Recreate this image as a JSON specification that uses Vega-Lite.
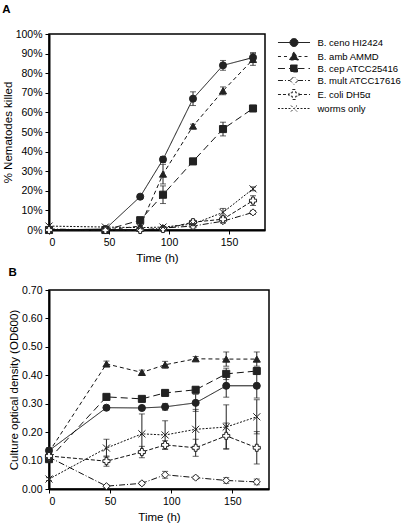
{
  "$schema": "https://vega.github.io/schema/vega-lite/v6.json",
  "padding": {"left": 1, "top": 2, "right": 40, "bottom": 2},
  "config": {
    "font": "Liberation Sans",
    "view": {"stroke": "#000", "strokeWidth": 1.5},
    "axis": {"labelFont": "Liberation Sans", "titleFont": "Liberation Sans", "labelFontSize": 10.5, "titleFontSize": 11.5, "titleFontWeight": "normal", "labelColor": "#000", "titleColor": "#000", "domainColor": "#000", "tickColor": "#000", "domainWidth": 2, "tickSize": 4, "grid": false, "labelPadding": 3},
    "legend": {"labelFont": "Liberation Sans", "labelFontSize": 9.5, "labelColor": "#000", "labelLimit": 200},
    "title": {"font": "Liberation Sans"}
  },
  "datasets": {
    "A": [
      {"strain": "B. ceno HI2424", "time": 0, "value": 0.0, "err": 0},
      {"strain": "B. ceno HI2424", "time": 47, "value": 0.005, "err": 0},
      {"strain": "B. ceno HI2424", "time": 76, "value": 0.17, "err": 0.01},
      {"strain": "B. ceno HI2424", "time": 95, "value": 0.36, "err": 0.015},
      {"strain": "B. ceno HI2424", "time": 120, "value": 0.67, "err": 0.035},
      {"strain": "B. ceno HI2424", "time": 145, "value": 0.84, "err": 0.025},
      {"strain": "B. ceno HI2424", "time": 170, "value": 0.88, "err": 0.025},
      {"strain": "B. amb AMMD", "time": 0, "value": 0.0, "err": 0},
      {"strain": "B. amb AMMD", "time": 47, "value": 0.0, "err": 0},
      {"strain": "B. amb AMMD", "time": 76, "value": 0.02, "err": 0.01},
      {"strain": "B. amb AMMD", "time": 95, "value": 0.285, "err": 0.05},
      {"strain": "B. amb AMMD", "time": 120, "value": 0.53, "err": 0.01},
      {"strain": "B. amb AMMD", "time": 145, "value": 0.71, "err": 0.02},
      {"strain": "B. amb AMMD", "time": 170, "value": 0.87, "err": 0.03},
      {"strain": "B. cep ATCC25416", "time": 0, "value": 0.0, "err": 0},
      {"strain": "B. cep ATCC25416", "time": 47, "value": 0.0, "err": 0},
      {"strain": "B. cep ATCC25416", "time": 76, "value": 0.05, "err": 0.01},
      {"strain": "B. cep ATCC25416", "time": 95, "value": 0.18, "err": 0.045},
      {"strain": "B. cep ATCC25416", "time": 120, "value": 0.35, "err": 0.015},
      {"strain": "B. cep ATCC25416", "time": 145, "value": 0.515, "err": 0.035},
      {"strain": "B. cep ATCC25416", "time": 170, "value": 0.62, "err": 0.01},
      {"strain": "B. mult ATCC17616", "time": 0, "value": 0.005, "err": 0},
      {"strain": "B. mult ATCC17616", "time": 47, "value": 0.0, "err": 0},
      {"strain": "B. mult ATCC17616", "time": 76, "value": 0.0, "err": 0},
      {"strain": "B. mult ATCC17616", "time": 95, "value": 0.01, "err": 0.005},
      {"strain": "B. mult ATCC17616", "time": 120, "value": 0.02, "err": 0.01},
      {"strain": "B. mult ATCC17616", "time": 145, "value": 0.045, "err": 0.01},
      {"strain": "B. mult ATCC17616", "time": 170, "value": 0.09, "err": 0.01},
      {"strain": "E. coli DH5α", "time": 0, "value": 0.0, "err": 0},
      {"strain": "E. coli DH5α", "time": 47, "value": 0.0, "err": 0},
      {"strain": "E. coli DH5α", "time": 76, "value": 0.0, "err": 0},
      {"strain": "E. coli DH5α", "time": 95, "value": 0.005, "err": 0.01},
      {"strain": "E. coli DH5α", "time": 120, "value": 0.04, "err": 0.01},
      {"strain": "E. coli DH5α", "time": 145, "value": 0.055, "err": 0.01},
      {"strain": "E. coli DH5α", "time": 170, "value": 0.15, "err": 0.025},
      {"strain": "worms only", "time": 0, "value": 0.02, "err": 0},
      {"strain": "worms only", "time": 47, "value": 0.015, "err": 0},
      {"strain": "worms only", "time": 76, "value": 0.012, "err": 0},
      {"strain": "worms only", "time": 95, "value": 0.015, "err": 0},
      {"strain": "worms only", "time": 120, "value": 0.03, "err": 0.01},
      {"strain": "worms only", "time": 145, "value": 0.09, "err": 0.02},
      {"strain": "worms only", "time": 170, "value": 0.21, "err": 0.01}
    ],
    "B": [
      {"strain": "B. ceno HI2424", "time": 0, "value": 0.135, "err": 0.01},
      {"strain": "B. ceno HI2424", "time": 47, "value": 0.286, "err": 0.005},
      {"strain": "B. ceno HI2424", "time": 76, "value": 0.285, "err": 0.005},
      {"strain": "B. ceno HI2424", "time": 95, "value": 0.289, "err": 0.012},
      {"strain": "B. ceno HI2424", "time": 120, "value": 0.303, "err": 0.03},
      {"strain": "B. ceno HI2424", "time": 145, "value": 0.363, "err": 0.04},
      {"strain": "B. ceno HI2424", "time": 170, "value": 0.363, "err": 0.043},
      {"strain": "B. amb AMMD", "time": 0, "value": 0.13, "err": 0.01},
      {"strain": "B. amb AMMD", "time": 47, "value": 0.44, "err": 0.01},
      {"strain": "B. amb AMMD", "time": 76, "value": 0.41, "err": 0.008},
      {"strain": "B. amb AMMD", "time": 95, "value": 0.437, "err": 0.012},
      {"strain": "B. amb AMMD", "time": 120, "value": 0.458, "err": 0.008},
      {"strain": "B. amb AMMD", "time": 145, "value": 0.457, "err": 0.025},
      {"strain": "B. amb AMMD", "time": 170, "value": 0.457, "err": 0.025},
      {"strain": "B. cep ATCC25416", "time": 0, "value": 0.105, "err": 0.01},
      {"strain": "B. cep ATCC25416", "time": 47, "value": 0.324, "err": 0.008},
      {"strain": "B. cep ATCC25416", "time": 76, "value": 0.317, "err": 0.008},
      {"strain": "B. cep ATCC25416", "time": 95, "value": 0.338, "err": 0.01},
      {"strain": "B. cep ATCC25416", "time": 120, "value": 0.349, "err": 0.01},
      {"strain": "B. cep ATCC25416", "time": 145, "value": 0.405, "err": 0.02},
      {"strain": "B. cep ATCC25416", "time": 170, "value": 0.415, "err": 0.01},
      {"strain": "B. mult ATCC17616", "time": 0, "value": 0.112, "err": 0.005},
      {"strain": "B. mult ATCC17616", "time": 47, "value": 0.01, "err": 0.005},
      {"strain": "B. mult ATCC17616", "time": 76, "value": 0.02, "err": 0.005},
      {"strain": "B. mult ATCC17616", "time": 95, "value": 0.05, "err": 0.012},
      {"strain": "B. mult ATCC17616", "time": 120, "value": 0.04, "err": 0.005},
      {"strain": "B. mult ATCC17616", "time": 145, "value": 0.03, "err": 0.01},
      {"strain": "B. mult ATCC17616", "time": 170, "value": 0.025, "err": 0.01},
      {"strain": "E. coli DH5α", "time": 0, "value": 0.116, "err": 0.01},
      {"strain": "E. coli DH5α", "time": 47, "value": 0.098, "err": 0.018},
      {"strain": "E. coli DH5α", "time": 76, "value": 0.13, "err": 0.02},
      {"strain": "E. coli DH5α", "time": 95, "value": 0.155, "err": 0.015},
      {"strain": "E. coli DH5α", "time": 120, "value": 0.145, "err": 0.03},
      {"strain": "E. coli DH5α", "time": 145, "value": 0.187, "err": 0.045},
      {"strain": "E. coli DH5α", "time": 170, "value": 0.145, "err": 0.057},
      {"strain": "worms only", "time": 0, "value": 0.035, "err": 0.005},
      {"strain": "worms only", "time": 47, "value": 0.144, "err": 0.031},
      {"strain": "worms only", "time": 76, "value": 0.194, "err": 0.07},
      {"strain": "worms only", "time": 95, "value": 0.19, "err": 0.05},
      {"strain": "worms only", "time": 120, "value": 0.21, "err": 0.07},
      {"strain": "worms only", "time": 145, "value": 0.218, "err": 0.078},
      {"strain": "worms only", "time": 170, "value": 0.254, "err": 0.06}
    ]
  },
  "spacing": 0,
  "resolve": {"scale": {"shape": "independent", "fill": "independent", "strokeDash": "independent"}, "legend": {"shape": "independent", "fill": "independent", "strokeDash": "independent"}},
  "vconcat": [
    {
      "title": {"text": "A", "anchor": "start", "frame": "bounds", "fontWeight": "bold", "fontSize": 11.5, "offset": 14},
      "width": 216,
      "height": 196,
      "data": {"name": "A"},
      "resolve": {"scale": {"shape": "independent", "fill": "independent", "strokeDash": "independent"}},
      "encoding": {
        "x": {"field": "time", "type": "quantitative", "scale": {"domain": [0, 180], "nice": false}, "axis": {"values": [0, 50, 100, 150], "title": "Time (h)", "titlePadding": 5}},
        "y": {"field": "value", "type": "quantitative", "scale": {"domain": [0, 1], "nice": false}, "axis": {"values": [0, 0.1, 0.2, 0.3, 0.4, 0.5, 0.6, 0.7, 0.8, 0.9, 1], "format": ".0%", "title": "% Nematodes killed", "titlePadding": 2}}
      },
      "layer": [
        {
          "transform": [{"filter": "datum.err > 0"}],
          "mark": {"type": "errorbar", "ticks": {"size": 6, "color": "#222"}, "rule": {"color": "#222", "strokeWidth": 1}},
          "encoding": {
            "yError": {"field": "err"},
            "detail": {"field": "strain", "type": "nominal"}
          }
        },
        {
          "mark": {"type": "line", "color": "#111", "strokeWidth": 1},
          "encoding": {
            "detail": {"field": "strain", "type": "nominal"},
            "strokeDash": {"field": "strain", "type": "nominal", "scale": {"domain": ["B. ceno HI2424", "B. amb AMMD", "B. cep ATCC25416", "B. mult ATCC17616", "E. coli DH5α", "worms only"], "range": [[1, 0], [4, 3], [7, 4], [6, 2, 1, 2], [4, 2], [2, 1.5]]}, "legend": null}
          }
        },
        {
          "mark": {"type": "point", "filled": true, "stroke": "#222", "strokeWidth": 1, "opacity": 1, "size": 50},
          "encoding": {
            "shape": {"field": "strain", "type": "nominal", "scale": {"domain": ["B. ceno HI2424", "B. amb AMMD", "B. cep ATCC25416", "B. mult ATCC17616", "E. coli DH5α", "worms only"], "range": ["circle", "triangle-up", "square", "diamond", "cross", "M-1,-1L1,1M-1,1L1,-1"]}, "legend": null},
            "fill": {"field": "strain", "type": "nominal", "scale": {"domain": ["B. ceno HI2424", "B. amb AMMD", "B. cep ATCC25416", "B. mult ATCC17616", "E. coli DH5α", "worms only"], "range": ["#222", "#222", "#222", "#fff", "#fff", "transparent"]}, "legend": null}
          }
        },
        {
          "transform": [{"filter": "datum.time < 0"}],
          "mark": {"type": "point", "filled": true, "stroke": "#222", "strokeWidth": 1, "opacity": 1},
          "encoding": {
            "shape": {"field": "strain", "type": "nominal", "scale": {"domain": ["B. ceno HI2424", "B. amb AMMD", "B. cep ATCC25416", "B. mult ATCC17616", "E. coli DH5α", "worms only"], "range": [
              "M-2.67,0H-0.67M0.67,0H2.67M0.67,0A0.67,0.67,0,1,1,-0.67,0A0.67,0.67,0,1,1,0.67,0Z",
              "M-2.67,0H-0.75M0.75,0H2.67M-0.75,0.58L0,-0.83L0.75,0.58Z",
              "M-2.67,0H-0.58M0.58,0H2.67M-0.58,-0.58H0.58V0.58H-0.58Z",
              "M-2.67,0H-0.67M0.67,0H2.67M-0.67,0L0,-0.67L0.67,0L0,0.67Z",
              "M-2.67,0H-0.83M0.83,0H2.67M-0.28,-0.83H0.28V-0.28H0.83V0.28H0.28V0.83H-0.28V0.28H-0.83V-0.28H-0.28Z",
              "M-2.67,0H-0.5M0.5,0H2.67M-0.5,-0.5L0.5,0.5M-0.5,0.5L0.5,-0.5"]},
              "legend": {"title": null, "orient": "right", "offset": 11, "padding": 2, "symbolSize": 144, "symbolOffset": 9.5, "rowPadding": 0, "labelOffset": 17, "symbolStrokeWidth": 1,
                "encode": {"symbols": {"update": {"stroke": {"value": "#222"}, "strokeWidth": {"value": 1}}}}}},
            "fill": {"field": "strain", "type": "nominal", "scale": {"domain": ["B. ceno HI2424", "B. amb AMMD", "B. cep ATCC25416", "B. mult ATCC17616", "E. coli DH5α", "worms only"], "range": ["#222", "#222", "#222", "#fff", "#fff", "transparent"]}},
            "strokeDash": {"field": "strain", "type": "nominal", "scale": {"domain": ["B. ceno HI2424", "B. amb AMMD", "B. cep ATCC25416", "B. mult ATCC17616", "E. coli DH5α", "worms only"], "range": [[1, 0], [3, 3], [7, 4], [5, 2, 1, 2], [3, 2], [2, 1.5]]}}
          }
        }
      ]
    },
    {
      "title": {"text": "B", "anchor": "start", "frame": "bounds", "fontWeight": "bold", "fontSize": 11.5, "offset": 7},
      "width": 220,
      "height": 199,
      "data": {"name": "B"},
      "encoding": {
        "x": {"field": "time", "type": "quantitative", "scale": {"domain": [0, 180], "nice": false}, "axis": {"values": [0, 50, 100, 150], "title": "Time (h)", "titlePadding": 5}},
        "y": {"field": "value", "type": "quantitative", "scale": {"domain": [0, 0.7], "nice": false}, "axis": {"values": [0, 0.1, 0.2, 0.3, 0.4, 0.5, 0.6, 0.7], "format": ".2f", "title": "Culture optical density (OD600)", "titlePadding": 2}}
      },
      "layer": [
        {
          "transform": [{"filter": "datum.err > 0"}],
          "mark": {"type": "errorbar", "ticks": {"size": 6, "color": "#222"}, "rule": {"color": "#222", "strokeWidth": 1}},
          "encoding": {
            "yError": {"field": "err"},
            "detail": {"field": "strain", "type": "nominal"}
          }
        },
        {
          "mark": {"type": "line", "color": "#111", "strokeWidth": 1},
          "encoding": {
            "detail": {"field": "strain", "type": "nominal"},
            "strokeDash": {"field": "strain", "type": "nominal", "scale": {"domain": ["B. ceno HI2424", "B. amb AMMD", "B. cep ATCC25416", "B. mult ATCC17616", "E. coli DH5α", "worms only"], "range": [[1, 0], [4, 3], [7, 4], [6, 2, 1, 2], [4, 2], [2, 1.5]]}, "legend": null}
          }
        },
        {
          "mark": {"type": "point", "filled": true, "stroke": "#222", "strokeWidth": 1, "opacity": 1, "size": 50},
          "encoding": {
            "shape": {"field": "strain", "type": "nominal", "scale": {"domain": ["B. ceno HI2424", "B. amb AMMD", "B. cep ATCC25416", "B. mult ATCC17616", "E. coli DH5α", "worms only"], "range": ["circle", "triangle-up", "square", "diamond", "cross", "M-1,-1L1,1M-1,1L1,-1"]}, "legend": null},
            "fill": {"field": "strain", "type": "nominal", "scale": {"domain": ["B. ceno HI2424", "B. amb AMMD", "B. cep ATCC25416", "B. mult ATCC17616", "E. coli DH5α", "worms only"], "range": ["#222", "#222", "#222", "#fff", "#fff", "transparent"]}, "legend": null}
          }
        }
      ]
    }
  ]
}
